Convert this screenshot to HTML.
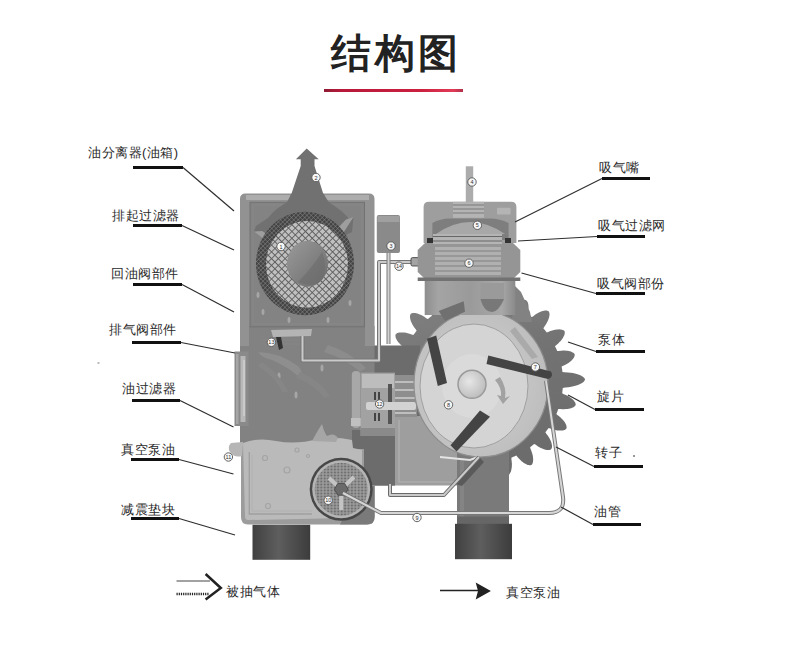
<!DOCTYPE html>
<html><head><meta charset="utf-8">
<style>
html,body{margin:0;padding:0;background:#fff;}
body{width:790px;height:665px;overflow:hidden;position:relative;font-family:"Liberation Sans",sans-serif;}
svg{position:absolute;left:0;top:0;}
.t text{font-family:"Liberation Sans",sans-serif;font-size:13px;fill:#2a2a2a;letter-spacing:0.5px;}
</style></head><body>
<svg width="790" height="665" viewBox="0 0 790 665">
<defs>
<pattern id="mesh" width="4.8" height="4.8" patternUnits="userSpaceOnUse" patternTransform="rotate(45)">
<rect width="4.8" height="4.8" fill="#c0c0c0"/><path d="M0,0H4.8M0,0V4.8" stroke="#5c5c5c" stroke-width="1.7"/>
</pattern>
<pattern id="meshd" width="3.1" height="3.1" patternUnits="userSpaceOnUse" patternTransform="rotate(45)">
<rect width="3.1" height="3.1" fill="#434343"/><path d="M0,0H3.1M0,0V3.1" stroke="#8a8a8a" stroke-width="0.9"/>
</pattern>
<pattern id="dots" width="3.4" height="3" patternUnits="userSpaceOnUse">
<rect width="3.4" height="3" fill="#9a9a9a"/><circle cx="1.7" cy="1.5" r="1.1" fill="#6e6e6e"/>
</pattern>
<linearGradient id="red" x1="0" x2="1"><stop offset="0" stop-color="#8e1c34"/><stop offset="0.12" stop-color="#b8183a"/><stop offset="0.7" stop-color="#cc2040"/><stop offset="0.93" stop-color="#e23a58"/><stop offset="1" stop-color="#b03048"/></linearGradient>
<linearGradient id="gearg" x1="0" y1="0" x2="0.3" y2="1"><stop offset="0" stop-color="#858585"/><stop offset="0.5" stop-color="#737373"/><stop offset="1" stop-color="#6c6c6c"/></linearGradient>
<radialGradient id="shaft" cx="0.4" cy="0.4" r="0.7"><stop offset="0" stop-color="#e6e6e6"/><stop offset="1" stop-color="#b8b8b8"/></radialGradient>
<linearGradient id="foot" x1="0" x2="1" y1="0" y2="0">
<stop offset="0" stop-color="#404040"/><stop offset="0.45" stop-color="#5e5e5e"/><stop offset="1" stop-color="#3c3c3c"/>
</linearGradient>
<linearGradient id="hole" x1="0" y1="0" x2="1" y2="1">
<stop offset="0" stop-color="#9a9a9a"/><stop offset="0.6" stop-color="#7e7e7e"/><stop offset="1" stop-color="#6a6a6a"/>
</linearGradient>
<linearGradient id="neck" x1="0" x2="1">
<stop offset="0" stop-color="#8e8e8e"/><stop offset="0.15" stop-color="#a4a4a4"/><stop offset="0.5" stop-color="#9a9a9a"/><stop offset="0.85" stop-color="#a8a8a8"/><stop offset="1" stop-color="#8a8a8a"/>
</linearGradient>
<radialGradient id="housing" cx="0.45" cy="0.5" r="0.6">
<stop offset="0" stop-color="#d2d2d2"/><stop offset="1" stop-color="#bcbcbc"/>
</radialGradient>
</defs>

<!-- title -->
<text x="331" y="66.5" font-size="40" font-weight="bold" fill="#222" letter-spacing="3.5" style="font-family:'Liberation Sans',sans-serif">结构图</text>
<rect x="324" y="89" width="139" height="3" fill="url(#red)"/>

<!-- ============ PUMP RIGHT ============ -->
<!-- gear -->
<path d="M583.9,381.5 L583.2,382.2 L582.3,382.8 L581.2,383.5 L580.0,384.1 L578.6,384.7 L577.1,385.3 L575.4,385.8 L573.4,386.3 L571.2,386.8 L568.6,387.2 L565.3,387.6 L562.7,387.9 L562.7,388.5 L562.7,389.0 L562.6,389.5 L562.6,390.1 L562.5,390.6 L562.4,391.1 L562.4,391.7 L562.3,392.2 L562.2,392.7 L562.2,393.3 L563.4,394.0 L565.7,394.9 L567.5,395.8 L568.9,396.6 L570.2,397.4 L571.3,398.2 L572.2,399.0 L573.1,399.8 L573.8,400.6 L574.4,401.4 L574.9,402.1 L575.3,402.8 L575.5,403.5 L575.7,404.2 L575.7,404.9 L575.4,405.5 L575.0,406.0 L574.4,406.5 L573.8,407.0 L573.0,407.4 L572.1,407.8 L571.1,408.2 L570.0,408.5 L568.8,408.8 L567.5,409.0 L566.0,409.1 L564.4,409.2 L562.5,409.2 L560.1,408.9 L558.3,408.9 L558.1,409.4 L557.9,409.9 L557.7,410.4 L557.6,410.9 L557.4,411.4 L557.2,411.9 L557.0,412.4 L556.8,412.9 L556.6,413.4 L556.3,413.9 L557.4,414.9 L559.4,416.4 L560.8,417.7 L562.0,418.9 L563.0,420.0 L563.9,421.0 L564.6,422.0 L565.2,423.0 L565.7,424.0 L566.1,424.8 L566.4,425.7 L566.5,426.5 L566.6,427.3 L566.6,428.0 L566.4,428.6 L566.0,429.1 L565.4,429.5 L564.8,429.9 L564.0,430.1 L563.1,430.4 L562.2,430.5 L561.2,430.6 L560.0,430.6 L558.8,430.6 L557.4,430.4 L556.0,430.2 L554.4,429.8 L552.5,429.3 L550.3,428.5 L548.6,427.9 L548.3,428.4 L548.0,428.8 L547.7,429.3 L547.3,429.7 L547.0,430.1 L546.7,430.6 L546.4,431.0 L546.1,431.4 L545.7,431.8 L545.4,432.3 L546.1,433.5 L547.7,435.5 L548.7,437.1 L549.6,438.5 L550.3,439.9 L550.8,441.1 L551.3,442.3 L551.6,443.4 L551.8,444.4 L552.0,445.4 L552.0,446.3 L552.0,447.1 L551.8,447.9 L551.6,448.5 L551.3,449.1 L550.8,449.5 L550.1,449.7 L549.4,449.9 L548.6,450.0 L547.7,450.0 L546.7,449.9 L545.7,449.7 L544.6,449.4 L543.4,449.0 L542.2,448.6 L540.8,447.9 L539.4,447.2 L537.7,446.2 L535.8,444.8 L534.3,443.9 L533.8,444.2 L533.4,444.5 L533.0,444.9 L532.6,445.2 L532.2,445.6 L531.8,445.9 L531.3,446.2 L530.9,446.6 L530.5,446.9 L530.1,447.2 L530.4,448.6 L531.4,450.9 L532.0,452.7 L532.5,454.4 L532.8,455.8 L533.0,457.2 L533.1,458.4 L533.2,459.6 L533.1,460.6 L533.0,461.6 L532.8,462.5 L532.6,463.2 L532.3,463.9 L531.9,464.5 L531.4,465.0 L530.8,465.2 L530.1,465.3 L529.4,465.3 L528.6,465.1 L527.7,464.9 L526.8,464.6 L525.9,464.1 L524.9,463.6 L523.8,462.9 L522.7,462.1 L521.6,461.2 L520.4,460.0 L519.1,458.7 L517.5,456.9 L516.3,455.5 L515.8,455.7 L515.3,456.0 L514.8,456.2 L514.4,456.4 L513.9,456.6 L513.4,456.8 L512.9,457.1 L512.4,457.3 L511.9,457.5 L511.4,457.7 L511.4,459.1 L511.7,461.6 L511.9,463.5 L511.9,465.2 L511.8,466.7 L511.7,468.1 L511.4,469.3 L511.2,470.4 L510.9,471.4 L510.5,472.3 L510.1,473.1 L509.7,473.8 L509.2,474.4 L508.7,474.9 L508.1,475.2 L507.4,475.2 L506.7,475.1 L506.0,474.9 L505.3,474.6 L504.5,474.1 L503.7,473.6 L502.9,472.9 L502.1,472.1 L501.3,471.2 L500.5,470.2 L499.6,469.0 L498.7,467.6 L497.8,465.9 L496.8,463.7 L495.9,462.1 L495.4,462.2 L494.9,462.3 L494.4,462.4 L493.8,462.5 L493.3,462.6 L492.8,462.7 L492.2,462.7 L491.7,462.8 L491.2,462.9 L490.6,462.9 L490.3,464.3 L490.0,466.8 L489.6,468.7 L489.2,470.3 L488.7,471.8 L488.2,473.0 L487.7,474.2 L487.1,475.2 L486.6,476.1 L486.0,476.9 L485.4,477.5 L484.8,478.1 L484.2,478.5 L483.5,478.8 L482.9,479.0 L482.3,478.9 L481.6,478.6 L481.0,478.2 L480.4,477.7 L479.7,477.1 L479.1,476.3 L478.5,475.5 L478.0,474.5 L477.4,473.4 L476.8,472.2 L476.3,470.8 L475.8,469.2 L475.4,467.4 L475.0,465.0 L474.6,463.2 L474.0,463.2 L473.5,463.2 L473.0,463.1 L472.4,463.1 L471.9,463.0 L471.4,462.9 L470.8,462.9 L470.3,462.8 L469.8,462.7 L469.2,462.7 L468.5,463.9 L467.6,466.2 L466.7,468.0 L465.9,469.4 L465.1,470.7 L464.3,471.8 L463.5,472.7 L462.7,473.6 L461.9,474.3 L461.1,474.9 L460.4,475.4 L459.7,475.8 L459.0,476.0 L458.3,476.2 L457.6,476.2 L457.0,475.9 L456.5,475.5 L456.0,474.9 L455.5,474.3 L455.1,473.5 L454.7,472.6 L454.3,471.6 L454.0,470.5 L453.7,469.3 L453.5,468.0 L453.4,466.5 L453.3,464.9 L453.3,463.0 L453.6,460.6 L453.6,458.8 L453.1,458.6 L452.6,458.4 L452.1,458.2 L451.6,458.1 L451.1,457.9 L450.6,457.7 L450.1,457.5 L449.6,457.3 L449.1,457.1 L448.6,456.8 L447.6,457.9 L446.1,459.9 L444.8,461.3 L443.6,462.5 L442.5,463.5 L441.5,464.4 L440.5,465.1 L439.5,465.7 L438.5,466.2 L437.7,466.6 L436.8,466.9 L436.0,467.0 L435.2,467.1 L434.5,467.1 L433.9,466.9 L433.4,466.5 L433.0,465.9 L432.6,465.3 L432.4,464.5 L432.1,463.6 L432.0,462.7 L431.9,461.7 L431.9,460.5 L431.9,459.3 L432.1,457.9 L432.3,456.5 L432.7,454.9 L433.2,453.0 L434.0,450.8 L434.6,449.1 L434.1,448.8 L433.7,448.5 L433.2,448.2 L432.8,447.8 L432.4,447.5 L431.9,447.2 L431.5,446.9 L431.1,446.6 L430.7,446.2 L430.2,445.9 L429.0,446.6 L427.0,448.2 L425.4,449.2 L424.0,450.1 L422.6,450.8 L421.4,451.3 L420.2,451.8 L419.1,452.1 L418.1,452.3 L417.1,452.5 L416.2,452.5 L415.4,452.5 L414.6,452.3 L414.0,452.1 L413.4,451.8 L413.0,451.3 L412.8,450.6 L412.6,449.9 L412.5,449.1 L412.5,448.2 L412.6,447.2 L412.8,446.2 L413.1,445.1 L413.5,443.9 L413.9,442.7 L414.6,441.3 L415.3,439.9 L416.3,438.2 L417.7,436.3 L418.6,434.8 L418.3,434.3 L418.0,433.9 L417.6,433.5 L417.3,433.1 L416.9,432.7 L416.6,432.3 L416.3,431.8 L415.9,431.4 L415.6,431.0 L415.3,430.6 L413.9,430.9 L411.6,431.9 L409.8,432.5 L408.1,433.0 L406.7,433.3 L405.3,433.5 L404.1,433.6 L402.9,433.7 L401.9,433.6 L400.9,433.5 L400.0,433.3 L399.3,433.1 L398.6,432.8 L398.0,432.4 L397.5,431.9 L397.3,431.3 L397.2,430.6 L397.2,429.9 L397.4,429.1 L397.6,428.2 L397.9,427.3 L398.4,426.4 L398.9,425.4 L399.6,424.3 L400.4,423.2 L401.3,422.1 L402.5,420.9 L403.8,419.6 L405.6,418.0 L407.0,416.8 L406.8,416.3 L406.5,415.8 L406.3,415.3 L406.1,414.9 L405.9,414.4 L405.7,413.9 L405.4,413.4 L405.2,412.9 L405.0,412.4 L404.8,411.9 L403.4,411.9 L400.9,412.2 L399.0,412.4 L397.3,412.4 L395.8,412.3 L394.4,412.2 L393.2,411.9 L392.1,411.7 L391.1,411.4 L390.2,411.0 L389.4,410.6 L388.7,410.2 L388.1,409.7 L387.6,409.2 L387.3,408.6 L387.3,407.9 L387.4,407.2 L387.6,406.5 L387.9,405.8 L388.4,405.0 L388.9,404.2 L389.6,403.4 L390.4,402.6 L391.3,401.8 L392.3,401.0 L393.5,400.1 L394.9,399.2 L396.6,398.3 L398.8,397.3 L400.4,396.4 L400.3,395.9 L400.2,395.4 L400.1,394.9 L400.0,394.3 L399.9,393.8 L399.8,393.3 L399.8,392.7 L399.7,392.2 L399.6,391.7 L399.6,391.1 L398.2,390.8 L395.7,390.5 L393.8,390.1 L392.2,389.7 L390.7,389.2 L389.5,388.7 L388.3,388.2 L387.3,387.6 L386.4,387.1 L385.6,386.5 L385.0,385.9 L384.4,385.3 L384.0,384.7 L383.7,384.0 L383.5,383.4 L383.6,382.8 L383.9,382.1 L384.3,381.5 L384.8,380.9 L385.4,380.2 L386.2,379.6 L387.0,379.0 L388.0,378.5 L389.1,377.9 L390.3,377.3 L391.7,376.8 L393.3,376.3 L395.1,375.9 L397.5,375.5 L399.3,375.1 L399.3,374.5 L399.3,374.0 L399.4,373.5 L399.4,372.9 L399.5,372.4 L399.6,371.9 L399.6,371.3 L399.7,370.8 L399.8,370.3 L399.8,369.7 L398.6,369.0 L396.3,368.1 L394.5,367.2 L393.1,366.4 L391.8,365.6 L390.7,364.8 L389.8,364.0 L388.9,363.2 L388.2,362.4 L387.6,361.6 L387.1,360.9 L386.7,360.2 L386.5,359.5 L386.3,358.8 L386.3,358.1 L386.6,357.5 L387.0,357.0 L387.6,356.5 L388.2,356.0 L389.0,355.6 L389.9,355.2 L390.9,354.8 L392.0,354.5 L393.2,354.2 L394.5,354.0 L396.0,353.9 L397.6,353.8 L399.5,353.8 L401.9,354.1 L403.7,354.1 L403.9,353.6 L404.1,353.1 L404.3,352.6 L404.4,352.1 L404.6,351.6 L404.8,351.1 L405.0,350.6 L405.2,350.1 L405.4,349.6 L405.7,349.1 L404.6,348.1 L402.6,346.6 L401.2,345.3 L400.0,344.1 L399.0,343.0 L398.1,342.0 L397.4,341.0 L396.8,340.0 L396.3,339.0 L395.9,338.2 L395.6,337.3 L395.5,336.5 L395.4,335.7 L395.4,335.0 L395.6,334.4 L396.0,333.9 L396.6,333.5 L397.2,333.1 L398.0,332.9 L398.9,332.6 L399.8,332.5 L400.8,332.4 L402.0,332.4 L403.2,332.4 L404.6,332.6 L406.0,332.8 L407.6,333.2 L409.5,333.7 L411.7,334.5 L413.4,335.1 L413.7,334.6 L414.0,334.2 L414.3,333.7 L414.7,333.3 L415.0,332.9 L415.3,332.4 L415.6,332.0 L415.9,331.6 L416.3,331.2 L416.6,330.7 L415.9,329.5 L414.3,327.5 L413.3,325.9 L412.4,324.5 L411.7,323.1 L411.2,321.9 L410.7,320.7 L410.4,319.6 L410.2,318.6 L410.0,317.6 L410.0,316.7 L410.0,315.9 L410.2,315.1 L410.4,314.5 L410.7,313.9 L411.2,313.5 L411.9,313.3 L412.6,313.1 L413.4,313.0 L414.3,313.0 L415.3,313.1 L416.3,313.3 L417.4,313.6 L418.6,314.0 L419.8,314.4 L421.2,315.1 L422.6,315.8 L424.3,316.8 L426.2,318.2 L427.7,319.1 L428.2,318.8 L428.6,318.5 L429.0,318.1 L429.4,317.8 L429.8,317.4 L430.2,317.1 L430.7,316.8 L431.1,316.4 L431.5,316.1 L431.9,315.8 L431.6,314.4 L430.6,312.1 L430.0,310.3 L429.5,308.6 L429.2,307.2 L429.0,305.8 L428.9,304.6 L428.8,303.4 L428.9,302.4 L429.0,301.4 L429.2,300.5 L429.4,299.8 L429.7,299.1 L430.1,298.5 L430.6,298.0 L431.2,297.8 L431.9,297.7 L432.6,297.7 L433.4,297.9 L434.3,298.1 L435.2,298.4 L436.1,298.9 L437.1,299.4 L438.2,300.1 L439.3,300.9 L440.4,301.8 L441.6,303.0 L442.9,304.3 L444.5,306.1 L445.7,307.5 L446.2,307.3 L446.7,307.0 L447.2,306.8 L447.6,306.6 L448.1,306.4 L448.6,306.2 L449.1,305.9 L449.6,305.7 L450.1,305.5 L450.6,305.3 L450.6,303.9 L450.3,301.4 L450.1,299.5 L450.1,297.8 L450.2,296.3 L450.3,294.9 L450.6,293.7 L450.8,292.6 L451.1,291.6 L451.5,290.7 L451.9,289.9 L452.3,289.2 L452.8,288.6 L453.3,288.1 L453.9,287.8 L454.6,287.8 L455.3,287.9 L456.0,288.1 L456.7,288.4 L457.5,288.9 L458.3,289.4 L459.1,290.1 L459.9,290.9 L460.7,291.8 L461.5,292.8 L462.4,294.0 L463.3,295.4 L464.2,297.1 L465.2,299.3 L466.1,300.9 L466.6,300.8 L467.1,300.7 L467.6,300.6 L468.2,300.5 L468.7,300.4 L469.2,300.3 L469.8,300.3 L470.3,300.2 L470.8,300.1 L471.4,300.1 L471.7,298.7 L472.0,296.2 L472.4,294.3 L472.8,292.7 L473.3,291.2 L473.8,290.0 L474.3,288.8 L474.9,287.8 L475.4,286.9 L476.0,286.1 L476.6,285.5 L477.2,284.9 L477.8,284.5 L478.5,284.2 L479.1,284.0 L479.7,284.1 L480.4,284.4 L481.0,284.8 L481.6,285.3 L482.3,285.9 L482.9,286.7 L483.5,287.5 L484.0,288.5 L484.6,289.6 L485.2,290.8 L485.7,292.2 L486.2,293.8 L486.6,295.6 L487.0,298.0 L487.4,299.8 L488.0,299.8 L488.5,299.8 L489.0,299.9 L489.6,299.9 L490.1,300.0 L490.6,300.1 L491.2,300.1 L491.7,300.2 L492.2,300.3 L492.8,300.3 L493.5,299.1 L494.4,296.8 L495.3,295.0 L496.1,293.6 L496.9,292.3 L497.7,291.2 L498.5,290.3 L499.3,289.4 L500.1,288.7 L500.9,288.1 L501.6,287.6 L502.3,287.2 L503.0,287.0 L503.7,286.8 L504.4,286.8 L505.0,287.1 L505.5,287.5 L506.0,288.1 L506.5,288.7 L506.9,289.5 L507.3,290.4 L507.7,291.4 L508.0,292.5 L508.3,293.7 L508.5,295.0 L508.6,296.5 L508.7,298.1 L508.7,300.0 L508.4,302.4 L508.4,304.2 L508.9,304.4 L509.4,304.6 L509.9,304.8 L510.4,304.9 L510.9,305.1 L511.4,305.3 L511.9,305.5 L512.4,305.7 L512.9,305.9 L513.4,306.2 L514.2,305.5 L515.4,304.1 L516.5,303.2 L517.5,302.4 L518.4,301.7 L519.3,301.2 L520.2,300.8 L521.0,300.4 L521.8,300.1 L522.6,299.9 L523.3,299.8 L524.0,299.7 L524.7,299.8 L525.3,299.9 L525.9,300.1 L526.4,300.4 L526.8,300.9 L527.2,301.4 L527.6,302.1 L527.9,302.7 L528.1,303.5 L528.3,304.3 L528.4,305.2 L528.5,306.2 L528.6,307.2 L528.5,308.3 L528.4,309.5 L528.2,310.9 L527.7,312.6 L527.4,313.9 L527.9,314.2 L528.3,314.5 L528.8,314.8 L529.2,315.2 L529.6,315.5 L530.1,315.8 L530.5,316.1 L530.9,316.4 L531.3,316.8 L531.8,317.1 L533.0,316.4 L535.0,314.8 L536.6,313.8 L538.0,312.9 L539.4,312.2 L540.6,311.7 L541.8,311.2 L542.9,310.9 L543.9,310.7 L544.9,310.5 L545.8,310.5 L546.6,310.5 L547.4,310.7 L548.0,310.9 L548.6,311.2 L549.0,311.7 L549.2,312.4 L549.4,313.1 L549.5,313.9 L549.5,314.8 L549.4,315.8 L549.2,316.8 L548.9,317.9 L548.5,319.1 L548.1,320.3 L547.4,321.7 L546.7,323.1 L545.7,324.8 L544.3,326.7 L543.4,328.2 L543.7,328.7 L544.0,329.1 L544.4,329.5 L544.7,329.9 L545.1,330.3 L545.4,330.7 L545.7,331.2 L546.1,331.6 L546.4,332.0 L546.7,332.4 L548.1,332.1 L550.4,331.1 L552.2,330.5 L553.9,330.0 L555.3,329.7 L556.7,329.5 L557.9,329.4 L559.1,329.3 L560.1,329.4 L561.1,329.5 L562.0,329.7 L562.7,329.9 L563.4,330.2 L564.0,330.6 L564.5,331.1 L564.7,331.7 L564.8,332.4 L564.8,333.1 L564.6,333.9 L564.4,334.8 L564.1,335.7 L563.6,336.6 L563.1,337.6 L562.4,338.7 L561.6,339.8 L560.7,340.9 L559.5,342.1 L558.2,343.4 L556.4,345.0 L555.0,346.2 L555.2,346.7 L555.5,347.2 L555.7,347.7 L555.9,348.1 L556.1,348.6 L556.3,349.1 L556.6,349.6 L556.8,350.1 L557.0,350.6 L557.2,351.1 L558.6,351.1 L561.1,350.8 L563.0,350.6 L564.7,350.6 L566.2,350.7 L567.6,350.8 L568.8,351.1 L569.9,351.3 L570.9,351.6 L571.8,352.0 L572.6,352.4 L573.3,352.8 L573.9,353.3 L574.4,353.8 L574.7,354.4 L574.7,355.1 L574.6,355.8 L574.4,356.5 L574.1,357.2 L573.6,358.0 L573.1,358.8 L572.4,359.6 L571.6,360.4 L570.7,361.2 L569.7,362.0 L568.5,362.9 L567.1,363.8 L565.4,364.7 L563.2,365.7 L561.6,366.6 L561.7,367.1 L561.8,367.6 L561.9,368.1 L562.0,368.7 L562.1,369.2 L562.2,369.7 L562.2,370.3 L562.3,370.8 L562.4,371.3 L562.4,371.9 L564.4,372.2 L567.9,372.4 L570.6,372.7 L572.9,373.1 L574.9,373.5 L576.7,374.0 L578.2,374.5 L579.7,375.0 L580.9,375.6 L582.0,376.2 L582.9,376.8 L583.7,377.5 L584.3,378.1 L584.8,378.8 L585.0,379.5 L584.8,380.1 L584.5,380.8 L583.9,381.5Z" fill="url(#gearg)"/>
<path d="M513,284 L521,292 L530,312 L532,322 L512,322Z" fill="#828282"/>
<!-- bottom column -->
<rect x="457" y="440" width="52" height="86" fill="#7a7a7a"/>
<rect x="460" y="458" width="4" height="66" fill="#848484"/>
<rect x="457" y="516.5" width="52" height="8" fill="#666"/>
<!-- lower casing -->
<rect x="395" y="416" width="62" height="69.5" fill="#9e9e9e"/>
<path d="M399,420 L399,482 L455,482" fill="none" stroke="#b2b2b2" stroke-width="1.2"/>
<!-- body dark region right of tank -->
<path d="M372,345.5 L420,345.5 L420,416 L395,416 L395,485.5 L366,485.5 L366,440 L372,440Z" fill="#6c6c6c"/>

<!-- ============ LEFT BODY ============ -->
<rect x="240" y="326" width="134.5" height="120" fill="#828282"/>
<rect x="240" y="326" width="4" height="20" fill="#929292"/>
<!-- side window -->
<rect x="234.5" y="351.5" width="14" height="74.5" fill="#8a8a8a"/>
<rect x="236" y="354" width="2.5" height="70" fill="#a6a6a6"/>
<rect x="240.5" y="356" width="5" height="66" fill="#b8b8b8"/>
<rect x="243" y="360" width="2" height="56" fill="#cacaca"/>
<!-- sump -->
<rect x="352" y="430" width="43" height="55.5" fill="#6c6c6c"/>
<path d="M241,444 L352,444 L352,449 L364,449 L364,485 L374.6,485 L374.6,517 Q374.6,524.5 367,524.5 L248,524.5 Q241,524.5 241,517Z" fill="#9c9c9c"/>
<path d="M352,500 L374.6,485 L374.6,517 Q374.6,524.5 367,524.5 L340,524.5Z" fill="#7a7a7a"/>
<path d="M243,443 Q258,437 276,441 Q296,445 318,439 Q334,436 352,440 L353,448 L362,450 L362,470 L345,518 L248,520 Q245,520 245,516Z" fill="#bababa"/>
<path d="M249.3,452 L249.3,514 L312,514" fill="none" stroke="#a0a0a0" stroke-width="1.4"/>
<path d="M252,455 L252,511 L312,511" fill="none" stroke="#b0b0b0" stroke-width="0.8"/>
<!-- drain plug -->
<path d="M231,443 Q227,447 230,452 Q234,458 242,456 L243,442Z" fill="#b6b6b6"/>
<!-- bubbles -->
<g fill="none" stroke="#a4a4a4" stroke-width="1.2">
<circle cx="265" cy="458" r="2.5"/><circle cx="287" cy="470" r="3"/><circle cx="297" cy="450" r="2"/><circle cx="308" cy="456" r="1.5"/><circle cx="268" cy="506" r="2.5"/>
</g>
<!-- oil splash -->
<path d="M312,441 Q318,430 322,424 Q324,432 327,436 Q334,432 338,438 L336,442 Z" fill="#a6a6a6"/>

<!-- tank -->
<path d="M240,199 Q240,193.5 245.5,193.5 L369,193.5 Q374.5,193.5 374.5,199 L374.5,346 L365,346 L365,326 L249,326 L249,346 L240,346Z" fill="#929292"/>
<rect x="246" y="195" width="44" height="5" fill="#adadad"/>
<rect x="325" y="195" width="44" height="5" fill="#adadad"/>
<rect x="250" y="202.3" width="114.5" height="124.5" fill="#838383" stroke="#727272" stroke-width="1"/>
<rect x="253" y="205" width="109" height="119" fill="none" stroke="#888" stroke-width="1"/>
<!-- return oil bar -->
<path d="M271,330 L312,329 L311,336 L273,337Z" fill="#b4b4b4"/>
<path d="M262,340 L300,340 M262,344 L300,344" stroke="#888" stroke-width="0.8"/>
<path d="M276,337 L279,350 L283,348 L281,337Z" fill="#333"/>

<!-- plume -->
<path d="M306.7,148.4 L318.7,159.3 L314.5,159.3 L314.5,166 L323,193 L329,202.6 Q342,210 350,220 L353.5,217 L352,232 L340,238 L275,240 L262,236 L254,231.5 L256,226 L268,218 Q276,208 286.8,202.6 L291.7,193 L300.7,166 L300.7,159.3 L295.9,159.3Z" fill="#717171"/>
<!-- side arrows of gas -->
<path d="M272,246 L260,236 L254,231.5 L262,231 L276,240Z" fill="#9e9e9e"/>
<path d="M340,238 L349,224 L353.5,217 L346,219.5 L334,232Z" fill="#9e9e9e"/>
<!-- filter -->
<ellipse cx="305" cy="263.5" rx="49" ry="51.7" fill="url(#meshd)"/>
<ellipse cx="307" cy="264.4" rx="41" ry="43.4" fill="url(#mesh)"/>
<ellipse cx="307.5" cy="263.8" rx="20.5" ry="23" fill="url(#hole)"/>
<path d="M298,282 Q312,268 322,252 Q328,266 322,280 Q312,288 298,282Z" fill="#6c6c6c" opacity="0.6"/>
<!-- droplets -->
<g fill="#a6a6a6">
<ellipse cx="263" cy="312" rx="1.5" ry="3"/><ellipse cx="289" cy="320" rx="1.5" ry="3"/><ellipse cx="328" cy="320" rx="1.5" ry="3"/><ellipse cx="350" cy="303" rx="1.5" ry="3"/><ellipse cx="258" cy="295" rx="1.5" ry="3"/>
<ellipse cx="279" cy="376" rx="1.5" ry="3.5"/><ellipse cx="322" cy="368" rx="1.5" ry="3.5"/><ellipse cx="296" cy="395" rx="1.5" ry="3.5"/><ellipse cx="320" cy="432" rx="1.5" ry="3.5"/>
</g>
<!-- gas swirls in lower body -->
<path d="M258,352 Q278,352 298,366 Q304,372 300,378 Q290,368 272,360 Q262,358 258,352Z" fill="#8e8e8e"/>
<path d="M262,362 Q282,376 288,392 L282,392 Q276,378 258,366Z" fill="#868686"/>
<path d="M328,345 Q350,352 366,368 L360,372 Q344,358 324,352Z" fill="#8c8c8c"/>
<path d="M300,372 Q320,380 330,396 L324,398 Q314,384 296,378Z" fill="#868686"/>

<!-- pipes -->
<g fill="none" stroke-linejoin="round">
<path d="M302.5,336 L302.5,360.5 L379,360.5 L379,262 L412,262" stroke="#767676" stroke-width="4"/>
<path d="M302.5,336 L302.5,360.5 L379,360.5 L379,262 L412,262" stroke="#cacaca" stroke-width="2"/>
<path d="M388.5,252 L388.5,344" stroke="#7a7a7a" stroke-width="4"/>
<path d="M388.5,252 L388.5,344" stroke="#d2d2d2" stroke-width="2"/>
</g>
<!-- oil cylinder -->
<rect x="376.8" y="215" width="23.2" height="38" rx="2" fill="#8a8a8a"/>
<rect x="377.5" y="216" width="22" height="6" fill="#a0a0a0"/>
<!-- fitting 14 -->
<rect x="411" y="257.6" width="15" height="8.4" rx="1.5" fill="#a4a4a4" stroke="#444" stroke-width="0.9"/>

<!-- valve assembly -->
<rect x="351.8" y="371" width="8.5" height="57" rx="4" fill="#a8a8a8"/>
<rect x="351" y="418" width="10" height="8" fill="#c0c0c0"/>
<rect x="360.6" y="372.6" width="34.4" height="63.4" fill="#a2a2a2"/>
<rect x="362" y="374" width="32" height="14" fill="#bdbdbd"/>
<rect x="395" y="375" width="22" height="42" fill="#8e8e8e"/>
<g stroke="#bebebe" stroke-width="2"><path d="M395,382H416M395,390H416M395,398H416M395,406H416M395,413H416"/></g>
<rect x="388" y="384" width="4" height="40" fill="#555"/>
<g fill="#444"><rect x="374" y="392" width="2" height="8"/><rect x="378" y="392" width="2" height="8"/><rect x="374" y="413" width="2" height="8"/><rect x="378" y="413" width="2" height="8"/></g>
<rect x="366" y="402" width="50" height="8" rx="2" fill="#d2d2d2"/>
<rect x="360.6" y="428" width="34.4" height="8" fill="#8a8a8a"/>

<!-- housing / rotor -->
<ellipse cx="481" cy="384" rx="67" ry="73" fill="url(#housing)" stroke="#8e8e8e" stroke-width="1.2"/>
<ellipse cx="474" cy="386" rx="54" ry="62" fill="#d4d4d4" stroke="#a0a0a0" stroke-width="1"/>
<ellipse cx="472" cy="386" rx="30" ry="32" fill="#dadada"/>
<ellipse cx="472" cy="384.3" rx="14" ry="14" fill="url(#shaft)" stroke="#9a9a9a" stroke-width="1.5"/>
<!-- light arrows in housing -->
<path d="M515,327 L538,357 L532,359 L510,331Z" fill="#aaaaaa"/>
<path d="M500,377 Q507,388 505,398 L510,396 L503,404 L497,395 L501,396 Q502,388 495,380Z" fill="#a2a2a2"/>
<path d="M440,457 L470,460 L478,457" stroke="#e4e4e4" stroke-width="2" fill="none"/>
<!-- vanes -->
<path d="M427,338.8 L436.2,335.6 L447,383 L437.8,386Z" fill="#444"/>
<path d="M488.3,355.4 L486.5,364 L548,379 Q554,377 551,371.4Z" fill="#444"/>
<path d="M480,410.6 L490,416.8 L456.5,451.5 L450.5,445.2Z" fill="#444"/>
<!-- oil pipe diagonal P2 -->
<path d="M455,484 L479,457 L484,462 L462,486Z" fill="#5a5a5a"/>
<g fill="none" stroke-linejoin="round">
<path d="M390,484 L390,495 L444,495 L479,457" stroke="#6a6a6a" stroke-width="4"/>
<path d="M390,484 L390,495 L444,495 L479,457" stroke="#cacaca" stroke-width="2"/>
</g>

<!-- neck -->
<rect x="424.7" y="279" width="90.6" height="36" fill="url(#neck)"/>
<path d="M480.5,283 L504,283 L504,300 Q498,312 492,312 Q484,312 480.5,300Z" fill="#9a9a9a"/>
<path d="M480.5,299 L504,299 Q498,312 492,312 Q484,312 480.5,299Z" fill="#787878"/>
<path d="M438.7,311 L463.7,301.3 L465,311.8 L445,320.8Z" fill="#707070"/>

<!-- head: valve body -->
<path d="M425,243 L513,243 L520.3,250 L520.3,272 L513,279 L425,279 L417.7,272 L417.7,250Z" fill="#959595"/>
<rect x="435" y="247" width="66" height="28" fill="#b0b0b0"/>
<g stroke="#808080" stroke-width="1"><path d="M435,251H501M435,256H501M435,261H501M435,266H501M435,271H501"/></g>
<rect x="417.7" y="277.5" width="102.6" height="3.5" fill="#727272"/>
<!-- head: top cover -->
<path d="M423.6,243 L423.6,207 Q423.6,201.8 429,201.8 L511,201.8 Q516.4,201.8 516.4,207 L516.4,243Z" fill="#9e9e9e"/>
<rect x="453" y="201.8" width="31" height="16" fill="#b4b4b4"/>
<g stroke="#7a7a7a" stroke-width="1"><path d="M453,205H484M453,209H484M453,213H484"/></g>
<rect x="497" y="207.7" width="13.6" height="6.8" rx="1" fill="#b4b4b4"/>
<path d="M432.4,240 L432.4,223 Q440,218.5 450,218.5 L490,218.5 Q500,218.5 508.6,223 L508.6,240Z" fill="#7e7e7e"/>
<path d="M436,234 Q470,210 505,234Z" fill="#a8a8a8"/>
<rect x="433" y="234" width="69" height="10" fill="#b4b4b4"/>
<g stroke="#666" stroke-width="1"><path d="M433,236.5H502M433,241H502"/></g>
<rect x="427" y="238" width="6" height="5" fill="#333"/><rect x="505" y="238" width="6" height="5" fill="#333"/>
<!-- intake nozzle -->
<rect x="465.8" y="166.3" width="7.4" height="36" fill="#acacac"/>

<!-- feet -->
<rect x="252.5" y="524.8" width="57.7" height="35" fill="url(#foot)"/>
<rect x="455" y="523.8" width="57" height="35.4" fill="url(#foot)"/>

<!-- oil filter 10 -->
<circle cx="341.2" cy="489.3" r="31.5" fill="#474747"/>
<circle cx="341.2" cy="489.3" r="29" fill="#b4b4b4"/>
<circle cx="341.2" cy="489.3" r="26.5" fill="url(#dots)"/>
<path d="M341.2,489.3 L329,478 M341.2,489.3 L354,477 M341.2,489.3 L341.2,510" stroke="#c4c4c4" stroke-width="4"/>
<path d="M334.4,489.3 L337.8,483.4 L344.6,483.4 L348,489.3 L344.6,495.2 L337.8,495.2Z" fill="#6a6a6a" stroke="#4e4e4e" stroke-width="1"/>
<!-- oil pipe P3 -->
<path d="M546,381 L563,497 Q565,513 549,513 L381,513 L343,493" fill="none" stroke="#777" stroke-width="4" stroke-linejoin="round"/>
<path d="M546,381 L563,497 Q565,513 549,513 L381,513 L343,493" fill="none" stroke="#d6d6d6" stroke-width="2" stroke-linejoin="round"/>

<!-- number badges -->
<g fill="#f6f6f6" stroke="#555" stroke-width="0.9">
<circle cx="316" cy="177.5" r="4.2"/><circle cx="281" cy="246.5" r="4.2"/><circle cx="391" cy="246" r="4.2"/><circle cx="399" cy="266.2" r="4.2"/><circle cx="472" cy="182" r="4.2"/><circle cx="477.4" cy="225.3" r="4.2"/><circle cx="469" cy="263.2" r="4.2"/><circle cx="535.4" cy="367" r="4.2"/><circle cx="448.5" cy="404.8" r="4.2"/><circle cx="271.4" cy="342.3" r="4.2"/><circle cx="379.6" cy="404" r="4.2"/><circle cx="228.4" cy="457" r="4.2"/><circle cx="328.2" cy="500.3" r="4.2"/><circle cx="417" cy="517.5" r="4.2"/>
</g>
<g font-size="5.5" fill="#333" text-anchor="middle" style="font-family:'Liberation Sans',sans-serif">
<text x="316" y="179.5">2</text><text x="281" y="248.5">1</text><text x="391" y="248">3</text><text x="399" y="268.2">14</text><text x="472" y="184">4</text><text x="477.4" y="227.3">5</text><text x="469" y="265.2">6</text><text x="535.4" y="369">7</text><text x="448.5" y="406.8">8</text><text x="271.4" y="344.3">13</text><text x="379.6" y="406">12</text><text x="228.4" y="459">11</text><text x="328.2" y="502.3">10</text><text x="417" y="519.5">9</text>
</g>


<!-- labels -->
<g class="t">
<text x="88" y="157">油分离器(油箱)</text>
<text x="112" y="220">排起过滤器</text>
<text x="111" y="278">回油阀部件</text>
<text x="109" y="334">排气阀部件</text>
<text x="122" y="393">油过滤器</text>
<text x="121" y="454">真空泵油</text>
<text x="121" y="514">减震垫块</text>
<text x="599" y="172">吸气嘴</text>
<text x="598" y="230">吸气过滤网</text>
<text x="597" y="288">吸气阀部份</text>
<text x="598" y="344">泵体</text>
<text x="597" y="401">旋片</text>
<text x="595" y="457">转子</text>
<text x="594" y="516">油管</text>
<text x="226" y="596">被抽气体</text>
<text x="506" y="597">真空泵油</text>
</g>
<g fill="#111">
<rect x="133" y="166" width="50" height="3"/>
<rect x="133" y="224" width="49" height="3"/>
<rect x="133" y="283" width="49" height="3"/>
<rect x="132" y="341" width="49" height="3"/>
<rect x="132" y="399" width="48" height="3"/>
<rect x="131" y="458" width="48" height="3"/>
<rect x="131" y="517" width="48" height="3"/>
<rect x="602" y="177" width="48" height="3"/>
<rect x="597" y="235" width="48" height="3"/>
<rect x="596" y="292" width="49" height="3"/>
<rect x="596" y="350" width="49" height="3"/>
<rect x="595" y="408" width="49" height="3"/>
<rect x="594" y="465" width="49" height="3"/>
<rect x="593" y="523" width="48" height="3"/>
</g>
<g stroke="#2e2e2e" stroke-width="1.2" fill="none">
<path d="M183,167.5 L234,211"/>
<path d="M182,225.5 L234,250"/>
<path d="M182,284.5 L234,312"/>
<path d="M181,342.5 L235,353"/>
<path d="M180,400.5 L233.5,427"/>
<path d="M179,459.5 L233.5,474"/>
<path d="M179,518.5 L235,535"/>
<path d="M602,178.5 L515,222"/>
<path d="M597,236.5 L518,241"/>
<path d="M596,293.5 L521.5,273"/>
<path d="M596,351.5 L568,342"/>
<path d="M595,409.5 L568,395"/>
<path d="M594,466.5 L556,447"/>
<path d="M593,524.5 L561,507"/>
</g>
<!-- tiny marks -->
<rect x="97.5" y="362" width="2" height="2" fill="#bbb"/><rect x="633" y="455" width="2" height="2" fill="#999"/>
<!-- legend arrows -->
<path d="M176.5,581 H210" stroke="#444" stroke-width="1"/>
<path d="M176.5,594 H209" stroke="#222" stroke-width="2.5" stroke-dasharray="1.2,1"/>
<path d="M205.6,574 L220.8,588 L205.6,599.4" stroke="#222" stroke-width="2.5" fill="none"/>
<path d="M440,590.5 H478" stroke="#222" stroke-width="1.6"/>
<path d="M475.7,582.4 L490.9,591 L475.7,599.4 L478,591Z" fill="#222"/>
</svg>
</body></html>
